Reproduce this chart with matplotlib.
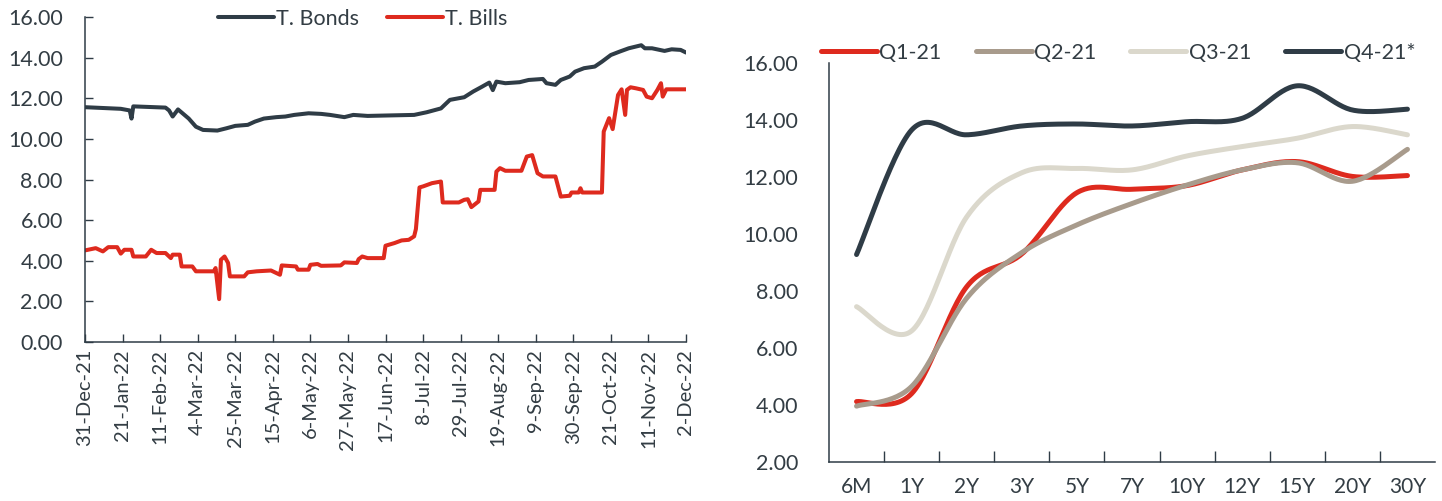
import numpy as np
import pandas as pd
import matplotlib
matplotlib.use("Agg")
import matplotlib.pyplot as plt
import matplotlib.dates as mdates
from matplotlib.ticker import FuncFormatter, FixedLocator

plt.rcParams['font.family'] = ['Lato', 'DejaVu Sans']

# --- left chart: daily yields (at the turning points)
bond_dates = ['2021-12-31', '2022-01-20', '2022-01-25', '2022-01-26', '2022-01-27',
              '2022-02-14', '2022-02-16', '2022-02-18', '2022-02-21', '2022-02-23',
              '2022-02-27', '2022-03-03', '2022-03-07', '2022-03-15', '2022-03-20',
              '2022-03-25', '2022-04-01', '2022-04-05', '2022-04-10', '2022-04-17',
              '2022-04-22', '2022-04-27', '2022-05-05', '2022-05-12', '2022-05-17',
              '2022-05-25', '2022-05-30', '2022-06-07', '2022-06-17', '2022-07-03',
              '2022-07-10', '2022-07-18', '2022-07-23', '2022-07-31', '2022-08-05',
              '2022-08-10', '2022-08-14', '2022-08-16', '2022-08-18', '2022-08-23',
              '2022-08-31', '2022-09-05', '2022-09-13', '2022-09-15', '2022-09-20',
              '2022-09-23', '2022-09-28', '2022-10-01', '2022-10-06', '2022-10-12',
              '2022-10-16', '2022-10-21', '2022-10-26', '2022-10-31', '2022-11-07',
              '2022-11-09', '2022-11-13', '2022-11-20', '2022-11-24', '2022-11-29',
              '2022-12-02']
bond_vals = [11.56, 11.48, 11.40, 11.00, 11.60,
             11.54, 11.40, 11.10, 11.45, 11.30,
             11.00, 10.60, 10.44, 10.41, 10.52,
             10.64, 10.69, 10.85, 11.00, 11.07,
             11.10, 11.18, 11.26, 11.23, 11.18,
             11.07, 11.18, 11.13, 11.15, 11.18,
             11.31, 11.50, 11.92, 12.05, 12.33,
             12.57, 12.77, 12.40, 12.82, 12.74,
             12.79, 12.90, 12.95, 12.74, 12.66,
             12.90, 13.07, 13.31, 13.48, 13.56,
             13.80, 14.13, 14.30, 14.46, 14.61,
             14.46, 14.46, 14.33, 14.41, 14.38,
             14.25]

bill_dates = ['2021-12-31', '2022-01-06', '2022-01-10', '2022-01-13', '2022-01-18',
              '2022-01-20', '2022-01-22', '2022-01-26', '2022-01-27', '2022-02-03',
              '2022-02-06', '2022-02-09', '2022-02-14', '2022-02-17', '2022-02-18',
              '2022-02-22', '2022-02-23', '2022-03-01', '2022-03-03', '2022-03-13',
              '2022-03-14', '2022-03-16', '2022-03-17', '2022-03-19', '2022-03-21',
              '2022-03-22', '2022-03-30', '2022-04-01', '2022-04-06', '2022-04-14',
              '2022-04-19', '2022-04-20', '2022-04-28', '2022-04-29', '2022-05-05',
              '2022-05-06', '2022-05-10', '2022-05-12', '2022-05-23', '2022-05-25',
              '2022-06-01', '2022-06-02', '2022-06-04', '2022-06-07', '2022-06-16',
              '2022-06-17', '2022-06-22', '2022-06-26', '2022-06-30', '2022-07-03',
              '2022-07-04', '2022-07-06', '2022-07-08', '2022-07-13', '2022-07-18',
              '2022-07-19', '2022-07-28', '2022-07-31', '2022-08-02', '2022-08-04',
              '2022-08-08', '2022-08-09', '2022-08-17', '2022-08-18', '2022-08-20',
              '2022-08-23', '2022-09-01', '2022-09-04', '2022-09-07', '2022-09-10',
              '2022-09-13', '2022-09-20', '2022-09-22', '2022-09-23', '2022-09-28',
              '2022-09-29', '2022-10-03', '2022-10-04', '2022-10-05', '2022-10-16',
              '2022-10-17', '2022-10-20', '2022-10-22', '2022-10-25', '2022-10-27',
              '2022-10-29', '2022-10-30', '2022-11-01', '2022-11-04', '2022-11-08',
              '2022-11-10', '2022-11-13', '2022-11-16', '2022-11-18', '2022-11-19',
              '2022-11-21', '2022-12-02']
bill_vals = [4.51, 4.62, 4.46, 4.67, 4.67,
             4.35, 4.54, 4.54, 4.21, 4.21,
             4.54, 4.38, 4.38, 4.13, 4.30,
             4.30, 3.72, 3.72, 3.48, 3.48,
             3.64, 2.11, 4.05, 4.21, 3.89,
             3.23, 3.23, 3.43, 3.48, 3.52,
             3.31, 3.77, 3.72, 3.56, 3.56,
             3.80, 3.84, 3.75, 3.77, 3.92,
             3.89, 4.08, 4.21, 4.13, 4.13,
             4.74, 4.87, 5.00, 5.03, 5.20,
             5.56, 7.61, 7.66, 7.82, 7.90,
             6.87, 6.87, 7.00, 7.03, 6.64,
             6.92, 7.49, 7.49, 8.39, 8.56,
             8.43, 8.43, 9.13, 9.20, 8.31,
             8.15, 8.15, 7.49, 7.16, 7.20,
             7.36, 7.36, 7.57, 7.36, 7.36,
             10.36, 11.02, 10.48, 12.16, 12.44,
             11.18, 12.41, 12.54, 12.49, 12.41,
             12.08, 12.00, 12.41, 12.74, 12.08,
             12.44, 12.44]

# --- right chart: yield curves per quarter
tenors = ['6M', '1Y', '2Y', '3Y', '5Y', '7Y', '10Y', '12Y', '15Y', '20Y', '30Y']
q1 = [4.12, 4.40, 8.15, 9.30, 11.45, 11.57, 11.70, 12.25, 12.54, 12.02, 12.05]
q2 = [3.96, 4.65, 7.75, 9.35, 10.32, 11.07, 11.72, 12.25, 12.50, 11.85, 12.97]
q3 = [7.45, 6.60, 10.60, 12.15, 12.30, 12.25, 12.74, 13.07, 13.36, 13.77, 13.48]
q4 = [9.28, 13.65, 13.48, 13.79, 13.86, 13.79, 13.94, 14.06, 15.20, 14.35, 14.38]

DARK = '#2f3c46'
RED = '#de2a1e'
TAUPE = '#a89b8c'
LIGHT = '#dbd8cc'
TXT = '#333d44'


def smooth(x, y, n=30):
    """Excel style smoothed line (bezier through the points)"""
    x = np.asarray(x, float)
    y = np.asarray(y, float)
    px = np.concatenate([[x[0]], x, [x[-1]]])
    py = np.concatenate([[y[0]], y, [y[-1]]])
    xs, ys = [], []
    t = np.linspace(0, 1, n)
    for i in range(1, len(px) - 2):
        p0 = np.array([px[i], py[i]])
        p3 = np.array([px[i + 1], py[i + 1]])
        p1 = p0 + (np.array([px[i + 1], py[i + 1]]) - np.array([px[i - 1], py[i - 1]])) / 6
        p2 = p3 - (np.array([px[i + 2], py[i + 2]]) - np.array([px[i], py[i]])) / 6
        b = ((1 - t) ** 3)[:, None] * p0 + (3 * (1 - t) ** 2 * t)[:, None] * p1 \
            + (3 * (1 - t) * t ** 2)[:, None] * p2 + (t ** 3)[:, None] * p3
        xs.append(b[:, 0])
        ys.append(b[:, 1])
    return np.concatenate(xs), np.concatenate(ys)


fig = plt.figure(figsize=(14.42, 5.01), dpi=100)

# ---------------- left
ax = fig.add_axes([85 / 1442, 1 - 342 / 501, 601 / 1442, 325 / 501])
bd = pd.to_datetime(bond_dates)
bl = pd.to_datetime(bill_dates)
ax.plot(bd, bond_vals, color=DARK, lw=2.9, solid_capstyle='round', label='T. Bonds')
ax.plot(bl, bill_vals, color=RED, lw=2.9, solid_capstyle='round', label='T. Bills')

ax.set_xlim(pd.Timestamp('2021-12-31'), pd.Timestamp('2022-12-02'))
ax.set_ylim(0, 16)
ax.set_yticks(np.arange(0, 16.1, 2))
ax.yaxis.set_major_formatter(FuncFormatter(lambda v, p: f'{v:.2f}'))
ax.set_xticks(pd.date_range('2021-12-31', '2022-12-02', freq='21D'))
ax.xaxis.set_major_formatter(FuncFormatter(
    lambda v, p: (lambda d: f'{d.day}-{d:%b-%y}')(mdates.num2date(v))))
for lab in ax.get_xticklabels():
    lab.set_rotation(90)
ax.tick_params(axis='x', direction='in', length=6, width=1, color=DARK,
               labelsize=14.5, labelcolor=TXT, pad=5)
ax.tick_params(axis='y', direction='in', length=6, width=1, color=DARK,
               labelsize=15.5, labelcolor=TXT, pad=16)
for s in ['top', 'right']:
    ax.spines[s].set_visible(False)
for s in ['left', 'bottom']:
    ax.spines[s].set_color(DARK)
    ax.spines[s].set_linewidth(1.1)

fig.legend(*ax.get_legend_handles_labels(), loc='center',
           bbox_to_anchor=(363 / 1442, 1 - 19 / 501), ncol=2, frameon=False,
           fontsize=15.5, handlelength=2.6, handletextpad=0.1, columnspacing=1.3,
           labelcolor=TXT, borderpad=0, borderaxespad=0)

# ---------------- right
ax2 = fig.add_axes([829 / 1442, 1 - 462 / 501, 606 / 1442, 399 / 501])
xi = np.arange(len(tenors))
for vals, c, name in [(q1, RED, 'Q1-21'), (q2, TAUPE, 'Q2-21'),
                      (q3, LIGHT, 'Q3-21'), (q4, DARK, 'Q4-21*')]:
    sx, sy = smooth(xi, vals)
    ax2.plot(sx, sy, color=c, lw=3.6, solid_capstyle='round', label=name)

ax2.set_xlim(-0.5, len(tenors) - 0.5)
ax2.set_ylim(2, 16)
ax2.set_yticks(np.arange(2, 16.1, 2))
ax2.yaxis.set_major_formatter(FuncFormatter(lambda v, p: f'{v:.2f}'))
ax2.set_xticks(xi)
ax2.set_xticklabels(tenors)
ax2.xaxis.set_minor_locator(FixedLocator(np.arange(0.5, len(tenors) - 0.5, 1)))
ax2.tick_params(axis='x', which='major', length=0, labelsize=15,
                labelcolor=TXT, pad=11)
ax2.tick_params(axis='x', which='minor', direction='in', length=8, width=1, color=DARK)
ax2.tick_params(axis='y', length=0, labelsize=15.5, labelcolor=TXT, pad=22)
for s in ['top', 'right']:
    ax2.spines[s].set_visible(False)
for s in ['left', 'bottom']:
    ax2.spines[s].set_color(DARK)
    ax2.spines[s].set_linewidth(1.1)

fig.legend(*ax2.get_legend_handles_labels(), loc='center',
           bbox_to_anchor=(1118 / 1442, 1 - 53 / 501), ncol=4, frameon=False,
           fontsize=15.5, handlelength=2.6, handletextpad=0.1, columnspacing=1.6,
           labelcolor=TXT, borderpad=0, borderaxespad=0)

fig.savefig('out.png', dpi=100)
